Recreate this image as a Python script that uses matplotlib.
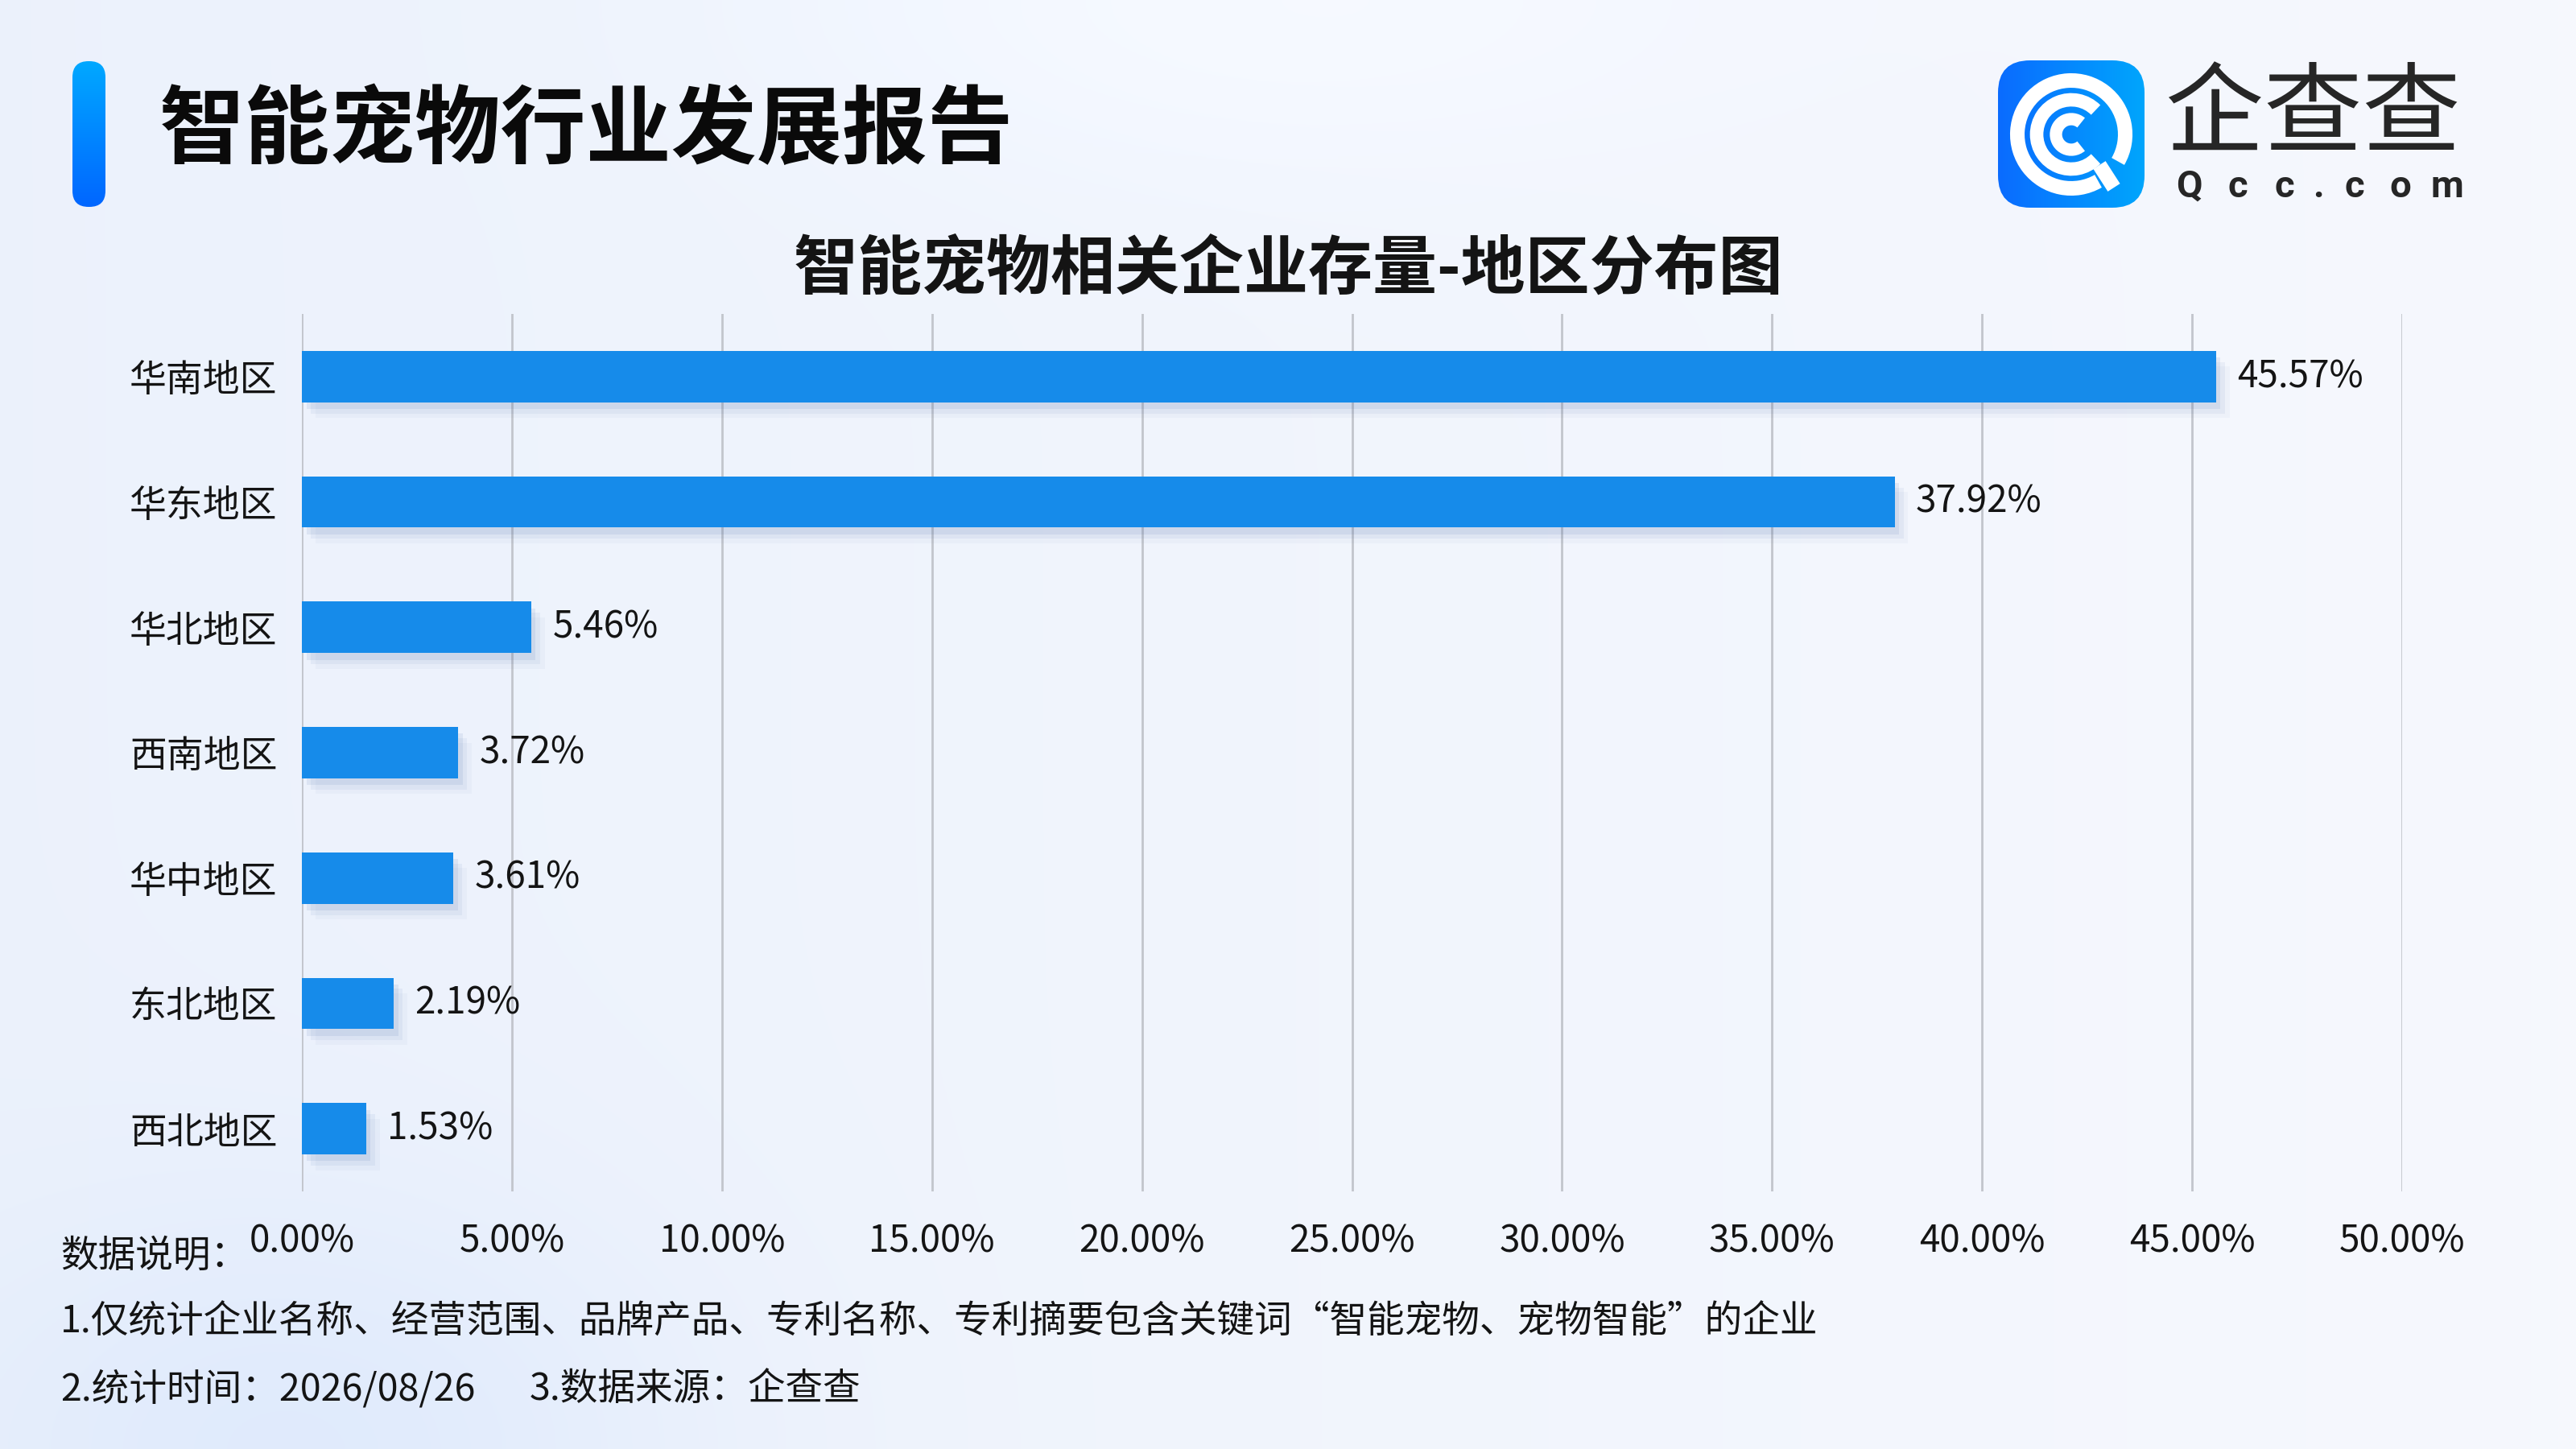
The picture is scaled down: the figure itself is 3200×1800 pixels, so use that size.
"""
智能宠物行业发展报告: 智能宠物相关企业存量 - 地区分布图 (horizontal bars).
"""
import numpy as np
import matplotlib
matplotlib.use("Agg")
import matplotlib.pyplot as plt
import matplotlib.patheffects as pe
from matplotlib.patches import FancyBboxPatch, Arc

plt.rcParams['font.family'] = ['Noto Sans CJK SC', 'DejaVu Sans']

# data
regions = ['华南地区', '华东地区', '华北地区', '西南地区', '华中地区', '东北地区', '西北地区']
shares  = [45.57, 37.92, 5.46, 3.72, 3.61, 2.19, 1.53]
x_ticks = [0, 5, 10, 15, 20, 25, 30, 35, 40, 45, 50]

title    = '智能宠物行业发展报告'
subtitle = '智能宠物相关企业存量-地区分布图'
note_head = '数据说明：'
note_1 = '1.仅统计企业名称、经营范围、品牌产品、专利名称、专利摘要包含关键词“智能宠物、宠物智能”的企业'
note_2a = '2.统计时间：2026/08/26'
note_2b = '3.数据来源：企查查'

W, H = 3200, 1800
BAR = '#168bea'
INK = '#141414'


def background():
    yy, xx = np.mgrid[0:H:4, 0:W:4]
    xs, ys = xx / W, yy / H
    left = np.array([0.925, 0.948, 0.988])
    right = np.array([0.965, 0.973, 0.995])
    img = left[None, None, :] * (1 - xs[..., None]) + right[None, None, :] * xs[..., None]
    # soft lighter glow top centre, bluish patch bottom left
    glow = np.exp(-(((xs - 0.48) / 0.18) ** 2 + ((ys - 0.0) / 0.12) ** 2))
    blue = np.exp(-(((xs - 0.12) / 0.15) ** 2 + ((ys - 1.0) / 0.18) ** 2))
    img = img + glow[..., None] * 0.02
    img = img - blue[..., None] * np.array([0.05, 0.03, 0.0])
    return np.clip(img, 0, 1)


def gradient_box(ov, x0, y0, w, h, r, c0, c1, horizontal):
    box = FancyBboxPatch((x0, y0), w, h, boxstyle=f'round,pad=0,rounding_size={r}',
                         linewidth=0, facecolor='none', zorder=2)
    ov.add_patch(box)
    t = np.linspace(0, 1, 256)
    cols = np.array(c0)[None, :] * (1 - t[:, None]) + np.array(c1)[None, :] * t[:, None]
    grad = cols[None, :, :] if horizontal else cols[:, None, :]
    im = ov.imshow(grad, extent=[x0, x0 + w, y0 + h, y0], aspect='auto', zorder=2,
                   interpolation='bicubic')
    im.set_clip_path(box)


def main():
    fig = plt.figure(figsize=(16, 9), dpi=200)

    # overlay in pixel coordinates: background + header + logo
    ov = fig.add_axes([0, 0, 1, 1], zorder=0)
    ov.set_xlim(0, W)
    ov.set_ylim(H, 0)
    ov.axis('off')
    ov.imshow(background(), extent=[0, W, H, 0], aspect='auto', zorder=0, interpolation='bilinear')

    # accent pill + title
    gradient_box(ov, 90, 76, 41, 181, 20, (0.0, 0.66, 1.0), (0.0, 0.40, 1.0), horizontal=False)
    ov.text(198, 164, title, fontsize=38.2, fontweight='bold', color='#0a0a0a',
            ha='left', va='center', zorder=3)
    ov.text(1600, 335, subtitle, fontsize=28.8, fontweight='bold', color=INK,
            ha='center', va='center', zorder=3)

    # logo
    gradient_box(ov, 2482, 75, 182, 183, 40, (0.04, 0.42, 1.0), (0.0, 0.65, 0.99), horizontal=True)
    cx, cy = 2573, 167
    ov.add_patch(Arc((cx, cy), 134, 134, theta1=-300, theta2=30, lw=6.5, color='white', zorder=4))
    ov.add_patch(Arc((cx, cy), 86, 86, theta1=45, theta2=315, lw=6.0, color='white', zorder=4))
    ov.add_patch(Arc((cx, cy), 38, 38, theta1=50, theta2=310, lw=5.5, color='white', zorder=4))
    ov.plot([2608, 2626], [205, 233], color='white', lw=6.5, solid_capstyle='butt', zorder=4)
    ov.text(2690, 146, '企查查', fontsize=44, fontweight='medium', color='#262626',
            ha='left', va='center', zorder=3)
    for ch, x in zip('Qcc.com', [2719, 2780, 2838, 2880, 2925, 2982, 3040]):
        ov.text(x, 232, ch, fontsize=17, fontweight='bold', family='Roboto', color='#262626',
                ha='center', va='center', zorder=3)

    # footnotes
    ov.text(75, 1560, note_head, fontsize=16.8, color=INK, ha='left', va='center', zorder=3)
    ov.text(75, 1642, note_1, fontsize=16.8, color=INK, ha='left', va='center', zorder=3)
    ov.text(75, 1726, note_2a, fontsize=16.8, color=INK, ha='left', va='center', zorder=3)
    ov.text(658, 1726, note_2b, fontsize=16.8, color=INK, ha='left', va='center', zorder=3)

    # chart
    ax = fig.add_axes([375 / W, 1 - 1480 / H, (2984 - 375) / W, (1480 - 390) / H], zorder=1)
    ax.patch.set_alpha(0)
    shadow = [pe.SimplePatchShadow(offset=(2, -3), shadow_rgbFace='#4a6aa8', alpha=0.10),
              pe.SimplePatchShadow(offset=(4, -5), shadow_rgbFace='#4a6aa8', alpha=0.07),
              pe.SimplePatchShadow(offset=(6, -7), shadow_rgbFace='#4a6aa8', alpha=0.04),
              pe.Normal()]
    y = np.arange(len(regions))
    bars = ax.barh(y, shares, height=0.41, color=BAR, zorder=3)
    for b in bars:
        b.set_path_effects(shadow)
    for yi, v in zip(y, shares):
        ax.annotate(f'{v:.2f}%', (v, yi), xytext=(9.5, 0), textcoords='offset points',
                    fontsize=16.5, color=INK, ha='left', va='center')

    ax.set_xlim(0, 50)
    ax.set_ylim(len(regions) - 0.5, -0.5)
    ax.set_xticks(x_ticks)
    ax.set_xticklabels([f'{t:.2f}%' for t in x_ticks])
    ax.set_yticks(y)
    ax.set_yticklabels(regions)
    ax.tick_params(axis='x', length=0, pad=13.5, labelsize=16.5, labelcolor=INK)
    ax.tick_params(axis='y', length=0, pad=11, labelsize=16.5, labelcolor=INK)
    ax.grid(axis='x', color='#c2c5cc', lw=1.0, zorder=0)
    for s in ax.spines.values():
        s.set_visible(False)

    fig.savefig('out.png', dpi=200)


if __name__ == '__main__':
    main()
